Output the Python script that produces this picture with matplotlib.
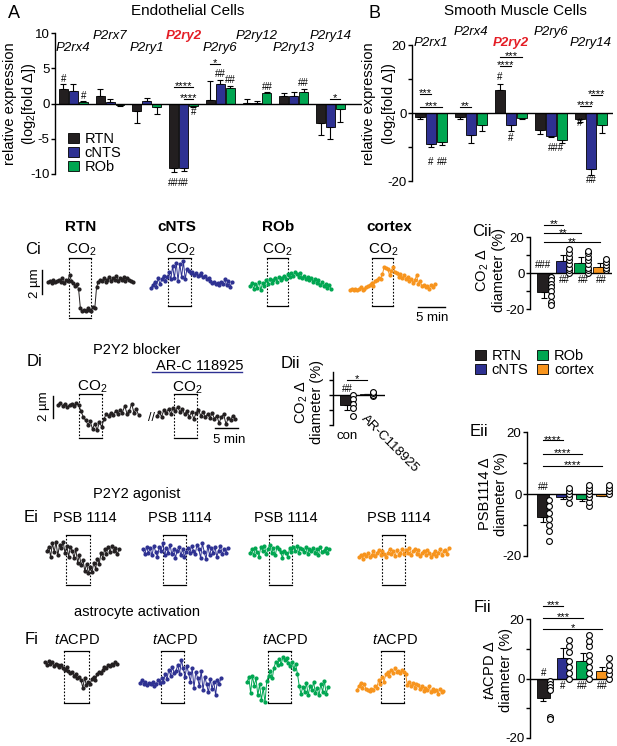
import matplotlib
matplotlib.use('Agg')
import matplotlib.pyplot as plt
import numpy as np

plt.rcParams['font.family'] = ['Liberation Sans', 'DejaVu Sans']
plt.rcParams['mathtext.fontset'] = 'custom'
plt.rcParams['mathtext.rm'] = 'Liberation Sans'
plt.rcParams['mathtext.it'] = 'Liberation Sans:italic'
plt.rcParams['mathtext.bf'] = 'Liberation Sans:bold'

# ------------------------------------------------------------------ data
regions = ['RTN', 'cNTS', 'ROb', 'cortex']
C_RTN, C_CNTS, C_ROB, C_CTX = '#231f20', '#2e3192', '#00a651', '#f7941d'
colors = [C_RTN, C_CNTS, C_ROB, C_CTX]

genes_A = ['P2rx4', 'P2rx7', 'P2ry1', 'P2ry2', 'P2ry6', 'P2ry12', 'P2ry13', 'P2ry14']
rtn_A = [2.1, 1.0, -1.1, -9.2, 0.5, 0.1, 1.0, -2.7]
rtn_A_err = [0.7, 1.1, 1.6, 0.5, 2.7, 0.5, 0.5, 1.7]
cnts_A = [1.8, 0.15, 0.35, -9.1, 2.8, 0.1, 1.0, -3.3]
cnts_A_err = [1.0, 0.5, 0.45, 0.5, 0.6, 0.3, 0.6, 1.8]
rob_A = [0.2, -0.2, -0.5, -0.4, 2.2, 1.5, 1.6, -0.8]
rob_A_err = [0.1, 0.1, 1.0, 0.1, 0.3, 0.1, 0.4, 1.8]

genes_B = ['P2rx1', 'P2rx4', 'P2ry2', 'P2ry6', 'P2ry14']
rtn_B = [-1.1, -1.1, 6.9, -5.0, -1.9]
rtn_B_err = [0.8, 0.8, 1.6, 1.3, 0.7]
cnts_B = [-9.2, -6.6, -3.6, -6.9, -16.5]
cnts_B_err = [0.9, 2.2, 1.6, 0.2, 1.8]
rob_B = [-8.5, -3.4, -1.4, -8.0, -3.6]
rob_B_err = [0.9, 2.0, 0.3, 0.8, 2.2]

# diameter traces (um), sampled every 1/3 min (Ci, Ei, Fi) or 1/2 min (Di)
ci_rtn = [0.0, 0.1, -0.1, 0.2, 0.0, 0.1, 0.2, 0.0, 0.3, -0.1, 0.2, 0.1, 0.6, 0.1, -0.1, -0.3, -0.2, -0.6,
          -2.2, -2.4, -2.3, -2.4, -2.2, -2.3, -2.4, -2.1, -2.2, -0.4, 0.0, 0.2, 0.1, 0.3, 0.0, 0.2, 0.4, 0.1,
          0.3, 0.2, 0.5, 0.1, 0.3, 0.2, 0.4, 0.1, 0.3, 0.2, 0.1, 0.0]
ci_cnts = [-0.4, -0.2, 0.1, -0.3, 0.4, -0.1, 0.3, 0.6, 0.2, 0.5, 0.9, 0.3, 1.4, 0.4, 1.7, 0.2, 1.6, 0.5, 1.8,
           0.3, 1.2, 1.0, 0.8, 0.9, 0.7, 0.8, 0.6, 0.7, 0.8, 0.5, 0.6, 0.3, 0.4, 0.2, 0.0, 0.1, -0.1, 0.0, -0.2,
           0.1, -0.1, 0.3, -0.2, 0.2, -0.3, 0.1]
ci_rob = [-0.2, 0.1, -0.4, 0.0, -0.3, 0.2, -0.5, 0.1, -0.2, 0.3, 0.0, 0.4, 0.1, 0.3, 0.5, 0.2, 0.6, 0.3, 0.5,
          0.7, 0.4, 0.8, 0.6, 0.9, 0.7, 1.0, 0.8, 0.6, 0.9, 0.5, 0.7, 0.4, 0.6, 0.3, 0.5, 0.2, 0.4, 0.1, 0.3,
          -0.1, 0.2, -0.2, 0.0, -0.3, -0.1, -0.4]
ci_ctx = [-0.4, -0.3, -0.4, -0.3, -0.4, -0.3, -0.2, -0.4, -0.3, -0.2, -0.1, 0.0, 0.2, -0.1, 0.3, 0.4, 0.6,
          0.5, 0.9, 1.5, 1.4, 1.3, 0.8, 1.2, 1.5, 1.1, 1.0, 0.7, 0.9, 0.6, 0.8, 0.5, 0.7, 0.3, 0.5, 0.2, 0.4,
          0.8, 0.1, 0.3, -0.1, 0.0, -0.2, -0.1, -0.3, 0.0, -0.2, 0.1]

di_con = [0.2, 0.4, 0.1, 0.3, 0.0, 0.2, 0.3, 0.1, 0.4, 0.2, -0.4, -0.9, -1.2, -1.6, -1.3, -2.0, -1.5, -2.1,
          -1.4, -1.8, -1.1, -0.6, -0.8, -0.5, -0.7, -0.4, -0.6, -0.3, -0.5, 0.1, -0.6, -0.4, 0.3, -0.5, -0.2, -0.7]
di_arc = [-0.5, -0.2, -0.6, 0.0, -0.3, 0.1, -0.4, 0.2, -0.1, 0.3, -0.2, 0.1, -0.4, -0.1, -0.6, -0.2, -0.8,
          -0.3, 0.0, -0.5, -0.2, -0.6, -0.4, -0.7, -0.3, -0.8, -0.5, -1.2, -0.6, -0.4, -1.3, -0.7, -0.9, -0.5, -0.8]

ei_rtn = [0.2, 0.5, -0.3, 0.8, 0.1, 0.9, -0.2, 0.7, 0.4, 0.9, 0.0, 0.6, -0.3, 0.5, 0.2, -0.4, 0.3, -0.8, -0.2,
          -1.0, -0.6, -1.5, -0.9, -1.7, -1.2, -1.6, -0.8, -1.3, -0.5, -0.9, 0.0, -0.4, 0.3, -0.1, 0.5, 0.1, 0.6,
          0.2, 0.4, -0.1, 0.3]
ei_cnts = [0.3, -0.1, 0.5, 0.0, 0.4, -0.2, 0.6, 0.1, -0.3, 0.5, 0.2, 0.8, -0.2, 0.4, 0.0, 0.7, -0.1, 0.3,
           -0.4, 0.2, 0.5, -0.2, 0.3, -0.3, 0.1, 0.4, 0.0, 0.6, 0.2, -0.1, 0.7, 0.3, -0.4, 0.8, 0.1, -0.5, 0.6,
           -0.2, 0.4, 0.0, 0.5, -0.3, 0.2, 0.6, -0.1, 0.3, 0.0, 0.4]
ei_rob = [0.0, 0.3, -0.2, 0.4, 0.1, -0.3, 0.5, 0.2, 0.6, -0.1, 0.3, 0.7, 0.0, 0.4, -0.2, 0.5, 0.3, 0.1, -0.4,
          0.2, 0.0, -0.3, 0.4, 0.1, 0.5, 0.2, 0.6, 0.0, 0.4, 0.3, 0.1, 0.5, -0.1, 0.3, 0.2, 0.4, 0.0, 0.3, -0.2,
          0.5, 0.1, 0.2, 0.4, 0.0, 0.3]
ei_ctx = [-0.2, 0.0, -0.3, 0.1, -0.1, 0.2, -0.2, 0.0, 0.3, -0.1, 0.2, 0.4, 0.0, 0.3, 0.1, -0.2, 0.2, 0.5,
          0.1, 0.3, -0.1, 0.4, 0.0, 0.2, 0.5, 0.1, 0.4, 0.2, 0.6, 0.0, 0.3, 0.5, 0.1, 0.4, -0.1, 0.2, 0.3, 0.0,
          0.4, 0.2, -0.2, 0.1, 0.3, -0.1, 0.2, 0.5, 0.0, 0.3, 0.4, 0.1, 0.6]

fi_rtn = [0.3, 0.1, 0.4, 0.2, 0.3, 0.0, 0.2, 0.1, -0.1, 0.1, -0.2, -0.3, -0.1, -0.4, -0.6, -0.5, -0.8, -0.7,
          -1.0, -0.9, -1.2, -1.8, -1.0, -1.6, -1.3, -1.5, -1.1, -0.9, -1.2, -0.7, -0.5, -0.6, -0.3, -0.1, -0.2,
          0.1, 0.0, 0.2, 0.1, 0.3, 0.2]
fi_cnts = [0.1, 0.3, 0.0, 0.2, -0.1, 0.1, 0.0, 0.2, -0.2, 0.0, 0.3, 0.1, 0.5, 0.2, 0.8, 0.4, 1.2, 0.7, 1.4,
           0.9, 1.1, 1.6, 0.8, 2.0, 1.3, 0.6, 1.5, 0.9, 0.2, 1.3, -0.3, 1.0, 0.5, -0.2, 1.1, -0.5, 0.6, 0.0,
           -0.7, 0.4, -0.4, 0.2, -0.9, 0.3, 0.0, 0.5]
fi_rob = [0.5, 0.9, -0.4, 1.0, 0.2, 0.8, -0.6, 0.3, -1.0, 0.0, -1.2, 0.6, 1.0, 1.4, 0.8, 1.7, 2.2, 1.9, 2.4,
          2.0, 2.6, 2.3, 2.5, 2.1, 1.8, 2.2, 1.6, 2.0, 1.2, 0.2, -0.5, 0.1, -0.3, 0.4, -0.6, 0.2, -0.2, 0.5,
          -0.4, 0.0, -0.6, 0.3, -0.3, 0.6, -0.5, 0.1]
fi_ctx = [0.0, 0.3, 0.6, 0.2, 0.5, 0.1, 0.0, -0.1, 0.1, 0.0, 0.3, 0.2, 0.8, 0.5, 1.1, 0.7, 1.3, 1.5, 1.2,
          1.7, 1.4, 1.8, 1.5, 1.6, 1.4, 1.7, 1.5, 1.3, 0.4, 0.7, 0.3, 0.6, 0.2, 0.5, 0.4, 0.1, 0.3, -0.1, 0.2,
          0.0, 0.3, -0.2, 0.1, -0.1, 0.0, -0.3, 0.1, -0.2, -0.1]

# summary diameter changes (%)
cii_mean = [-10.5, 6.5, 5.6, 3.4]
cii_err = [3.5, 3.5, 3.1, 1.9]
cii_pts = [[-2, -4, -6, -8, -10, -13, -16, -17.5],
           [0, 1.5, 3, 5, 7, 9, 11, 13.5],
           [0, 1.5, 3, 5, 7, 9, 11, 12.5],
           [1.5, 3, 4.5, 6, 8]]
dii_mean = [-7.0, 0.3]
dii_err = [3.0, 0.3]
dii_pts = [[0, -3, -6, -9, -14], [-1, 0, 1, 2]]
dii_labels = ['con', 'AR-C118925']
eii_mean = [-7.5, -1.0, -1.5, -0.5]
eii_err = [1.5, 0.5, 0.6, 0.3]
eii_pts = [[-2, -4, -6, -8, -10, -12, -15],
           [-3, -1, 0, 1, 2],
           [-4, -2.5, -1, 0, 1, 2, 3],
           [0, 1, 2, 3]]
fii_mean = [-6.5, 7.0, 6.0, 2.5]
fii_err = [1.0, 3.2, 2.5, 1.2]
fii_pts = [[-1, -2, -3, -4, -13, -13.6],
           [0, 2, 4, 6, 9, 11, 13],
           [0, 2, 4, 6, 8, 11, 12.5, 14.5],
           [0, 1.5, 3, 4.5, 7]]

# ------------------------------------------------------------------ figure
W, H = 617, 746
fig = plt.figure(figsize=(W / 100, H / 100), dpi=100)


def pax(x0, y0, x1, y1):
    return fig.add_axes([x0 / W, 1 - y1 / H, (x1 - x0) / W, (y1 - y0) / H])


ov = pax(0, 0, W, H)
ov.set_xlim(0, W)
ov.set_ylim(H, 0)
ov.axis('off')


def style_bar_axes(ax, ylim, ticks, labels, lsize=9.5):
    ax.set_ylim(*ylim)
    for s in ['top', 'right', 'bottom']:
        ax.spines[s].set_visible(False)
    ax.spines['left'].set_linewidth(1.0)
    ax.set_xticks([])
    ax.set_yticks(ticks)
    ax.set_yticklabels(labels)
    ax.tick_params(axis='y', length=3, width=1, pad=1, labelsize=lsize)
    ax.axhline(0, color='black', lw=1.0, zorder=4)
    ax.patch.set_alpha(0)


def one_sided_err(ax, x, v, e, lw=0.8, cap=2):
    v = np.asarray(v, float)
    e = np.asarray(e, float)
    lower = np.where(v < 0, e, 0)
    upper = np.where(v >= 0, e, 0)
    ax.errorbar(x, v, yerr=[lower, upper], fmt='none', ecolor='black', elinewidth=lw,
                capsize=cap, capthick=lw, zorder=1)


def sig(ax, x1, x2, y, txt, fs=8):
    ax.plot([x1, x2], [y, y], color='black', lw=0.8, clip_on=False, zorder=5)
    ax.annotate(txt, xy=((x1 + x2) / 2, y), xytext=(0, -1.6), textcoords='offset points',
                ha='center', va='baseline', fontsize=fs, annotation_clip=False)


def hsh(ax, x, y, txt, fs=7):
    ax.text(x, y, txt, ha='center', va='center', fontsize=fs, clip_on=False, zorder=5)


def two_line_label(x1, x2, y, l1, l2, fs=10.5):
    ov.text(x1, y, l1, rotation=90, fontsize=fs, ha='center', va='center')
    ov.text(x2, y, l2, rotation=90, fontsize=fs, ha='center', va='center')


# ------------------------------------------------------------------ panel A
axA = pax(55, 33, 362, 174)
axA.set_xlim(-0.5, 7.86)
style_bar_axes(axA, (-10, 10), [-10, -5, 0, 5, 10], ['-10', '-5', '0', '5', '10'])
offA, wA = 0.27, 0.245
xA = np.arange(len(genes_A))
handlesA = []
for j, (v, e) in enumerate([(rtn_A, rtn_A_err), (cnts_A, cnts_A_err), (rob_A, rob_A_err)]):
    xx = xA + (j - 1) * offA
    b = axA.bar(xx, v, width=wA, color=colors[j], edgecolor='black', linewidth=0.6, zorder=2,
                label=regions[j])
    handlesA.append(b)
    one_sided_err(axA, xx, v, e)
for i, g in enumerate(genes_A):
    yy = 9.6 if i % 2 == 1 else 7.9
    if g == 'P2ry2':
        axA.text(i, yy, g, ha='center', va='center', fontsize=9.5, style='italic', weight='bold',
                 color='#e41e26', clip_on=False)
    else:
        axA.text(i, yy, g, ha='center', va='center', fontsize=9.5, style='italic', clip_on=False)
# significance A
hsh(axA, 0 - offA, 3.5, '#')
hsh(axA, 0 + offA, 1.1, '#')
sig(axA, 3 - offA, 3 + offA, 2.3, '****')
sig(axA, 3, 3 + offA, 0.6, '****')
hsh(axA, 3 + offA, -1.2, '#')
hsh(axA, 3 - offA, -11.3, '##')
hsh(axA, 3, -11.3, '##')
sig(axA, 4 - offA, 4, 5.6, '*')
hsh(axA, 4, 4.2, '##')
hsh(axA, 4 + offA, 3.3, '##')
hsh(axA, 5 + offA, 2.4, '##')
hsh(axA, 6 + offA, 2.9, '##')
sig(axA, 7, 7 + offA, 0.7, '*')
axA.legend(handles=handlesA, loc='upper left', bbox_to_anchor=(68 / W, 1 - 132 / H),
           bbox_transform=fig.transFigure, frameon=False, fontsize=10.5, handlelength=0.75,
           handleheight=0.75, handletextpad=0.4, labelspacing=0.0, borderpad=0, borderaxespad=0)

ov.text(8, 14, 'A', fontsize=13, ha='left', va='center')
ov.text(188, 11, 'Endothelial Cells', fontsize=11, ha='center', va='center')
two_line_label(10, 29, 104, 'relative expression', '(log$_2$[fold Δ])')

# ------------------------------------------------------------------ panel B
axB = pax(412, 45, 613, 181)
axB.set_xlim(-0.475, 4.55)
style_bar_axes(axB, (-20, 20), [-20, -10, 0, 10, 20], ['-20', '', '0', '', '20'])
offB, wB = 0.275, 0.24
xB = np.arange(len(genes_B))
for j, (v, e) in enumerate([(rtn_B, rtn_B_err), (cnts_B, cnts_B_err), (rob_B, rob_B_err)]):
    xx = xB + (j - 1) * offB
    axB.bar(xx, v, width=wB, color=colors[j], edgecolor='black', linewidth=0.6, zorder=2)
    one_sided_err(axB, xx, v, e)
for i, g in enumerate(genes_B):
    yy = 23.8 if i % 2 == 1 else 20.6
    if g == 'P2ry2':
        axB.text(i, yy, g, ha='center', va='center', fontsize=9.5, style='italic', weight='bold',
                 color='#e41e26', clip_on=False)
    else:
        axB.text(i, yy, g, ha='center', va='center', fontsize=9.5, style='italic', clip_on=False)
sig(axB, -offB, 0, 5.6, '***')
sig(axB, -offB, offB, 1.8, '***')
hsh(axB, 0, -14.4, '#')
hsh(axB, offB, -14.4, '##')
sig(axB, 1 - offB, 1, 1.8, '**')
hsh(axB, 2 - offB, 10.6, '#')
sig(axB, 2 - offB, 2 + offB, 16.5, '***')
sig(axB, 2 - offB, 2, 13.8, '****')
hsh(axB, 2, -7.4, '#')
hsh(axB, 3 + 0.12, -10.3, '###')
sig(axB, 4 - offB, 4, 2.1, '****')
sig(axB, 4, 4 + offB, 5.2, '****')
hsh(axB, 4 - offB, -2.9, '#')
hsh(axB, 4, -19.8, '##')

ov.text(368, 14, 'B', fontsize=13, ha='left', va='center')
ov.text(515, 11, 'Smooth Muscle Cells', fontsize=11, ha='center', va='center')
two_line_label(369, 389, 104, 'relative expression', '(log$_2$[fold Δ])')


# ------------------------------------------------------------------ traces
def trace(x0, base, vals, color, win, box_top, box_bot, dt=1 / 3, pxmin=5.4, pxum=12.0,
          ms=2.0, lw=0.7):
    n = len(vals)
    t = np.arange(n) * dt
    tmax = (n - 1) * dt
    ymax, ymin = 4.0, -4.0
    ax = pax(x0, base - ymax * pxum, x0 + tmax * pxmin, base - ymin * pxum)
    ax.set_xlim(0, tmax)
    ax.set_ylim(ymin, ymax)
    ax.axis('off')
    ax.plot(t, vals, '-o', color=color, lw=lw, ms=ms, mec=color, clip_on=False, zorder=3)
    yt = (base - box_top) / pxum
    yb = (base - box_bot) / pxum
    ax.plot([win[0], win[1]], [yt, yt], color='black', lw=0.9, clip_on=False)
    ax.plot([win[0], win[1]], [yb, yb], color='black', lw=0.9, clip_on=False)
    for xx in win:
        ax.plot([xx, xx], [yt, yb], color='black', lw=0.8, ls=(0, (1.5, 1.5)), clip_on=False)
    return ax


# Ci
ov.text(33, 250, 'Ci', fontsize=12, ha='center', va='center')
for xc, lab in zip([81, 177, 278, 389], regions):
    ov.text(xc, 227, lab, fontsize=11, weight='bold', ha='center', va='center')
for xc in [81, 180, 277, 383]:
    ov.text(xc, 250, 'CO$_2$', fontsize=11, ha='center', va='center')
a_ci_rtn = trace(48, 282, ci_rtn, C_RTN, (3.9, 8.0), 258, 318)
trace(151, 283, ci_cnts, C_CNTS, (3.1, 7.4), 258, 306)
trace(250, 284, ci_rob, C_ROB, (3.1, 7.0), 258, 306)
a_ci_ctx = trace(350, 285, ci_ctx, C_CTX, (4.1, 8.0), 258, 306)
a_ci_rtn.plot([-1.1, -1.1], [-1.0, 1.0], color='black', lw=1.0, clip_on=False)
ov.text(35, 283, '2 µm', rotation=90, fontsize=9.5, ha='center', va='center')
a_ci_ctx.plot([12.6, 17.6], [-1.8, -1.8], color='black', lw=1.0, clip_on=False)
ov.text(432, 318, '5 min', fontsize=9.5, ha='center', va='center')

# Di
ov.text(35, 362, 'Di', fontsize=12, ha='center', va='center')
ov.text(137, 350, 'P2Y2 blocker', fontsize=10.5, ha='center', va='center')
ov.text(200, 366, 'AR-C 118925', fontsize=10.5, ha='center', va='center')
ov.plot([152, 242], [372, 372], color=C_CNTS, lw=1.0)
ov.text(92, 387, 'CO$_2$', fontsize=11, ha='center', va='center')
ov.text(187, 388, 'CO$_2$', fontsize=11, ha='center', va='center')
a_di1 = trace(58, 407, di_con, C_RTN, (4.6, 9.6), 394, 438, dt=0.5, pxmin=4.6, pxum=11.0)
a_di2 = trace(157, 410, di_arc, C_RTN, (3.7, 8.7), 394, 438, dt=0.5, pxmin=4.6, pxum=11.0)
ov.text(151, 418, '//', fontsize=9, ha='center', va='center')
a_di1.plot([-1.0, -1.0], [1.0, -1.0], color='black', lw=1.0, clip_on=False)
ov.text(44, 406, '2 µm', rotation=90, fontsize=9.5, ha='center', va='center')
a_di2.plot([12.6, 17.6], [-1.6, -1.6], color='black', lw=1.0, clip_on=False)
ov.text(229, 440, '5 min', fontsize=9.5, ha='center', va='center')

# Ei
ov.text(137, 494, 'P2Y2 agonist', fontsize=10.5, ha='center', va='center')
ov.text(31, 518, 'Ei', fontsize=12, ha='center', va='center')
for xc in [85, 180, 286, 399]:
    ov.text(xc, 518, 'PSB 1114', fontsize=10.5, ha='center', va='center')
trace(47, 553, ei_rtn, C_RTN, (3.5, 8.0), 535, 585)
trace(143, 553, ei_cnts, C_CNTS, (3.7, 8.0), 535, 585)
trace(250, 553, ei_rob, C_ROB, (3.5, 7.8), 535, 585)
trace(359, 555, ei_ctx, C_CTX, (4.3, 8.5), 535, 585)

# Fi
ov.text(137, 612, 'astrocyte activation', fontsize=10.5, ha='center', va='center')
ov.text(32, 640, 'Fi', fontsize=12, ha='center', va='center')
for xc in [77, 175, 285, 395]:
    ov.text(xc, 640, '$\\mathit{t}$ACPD', fontsize=10.5, ha='center', va='center')
trace(45, 666, fi_rtn, C_RTN, (3.5, 8.1), 651, 703)
trace(140, 684, fi_cnts, C_CNTS, (3.9, 8.1), 651, 703)
trace(247, 688, fi_rob, C_ROB, (3.9, 8.1), 651, 703)
trace(357, 690, fi_ctx, C_CTX, (4.4, 8.7), 651, 703)


# ------------------------------------------------------------------ summary bar panels
def diam_panel(box, xlim, means, errs, pts, barw, cols, off=0.33):
    ax = pax(*box)
    ax.set_xlim(*xlim)
    style_bar_axes(ax, (-20, 20), [-20, -10, 0, 10, 20], ['-20', '', '0', '', '20'], lsize=9.5)
    x = np.arange(len(means))
    ax.bar(x, means, width=barw, color=cols, edgecolor='black', linewidth=0.6, zorder=2)
    one_sided_err(ax, x, means, errs)
    for i, p in enumerate(pts):
        ax.plot(np.full(len(p), i + off), p, 'o', ms=4.2, mfc='white', mec='black', mew=0.8,
                zorder=6, clip_on=False)
    return ax


# Cii
axC = diam_panel((530, 237, 612, 309), (-0.78, 3.65), cii_mean, cii_err, cii_pts, 0.8, colors)
sig(axC, 0, 1, 26.5, '**')
sig(axC, 0, 2, 22.0, '**')
sig(axC, 0, 3, 17.0, '**')
hsh(axC, -0.05, 4.5, '###')
for i, t in [(1, '##'), (2, '##'), (3, '##')]:
    hsh(axC, i + 0.1, -4.0, t)
ov.text(482, 232, 'Cii', fontsize=12, ha='center', va='center')
two_line_label(483, 499, 270, 'CO$_2$ Δ', 'diameter (%)')

# legend
lh = [plt.Rectangle((0, 0), 1, 1, fc=c, ec='black', lw=0.6) for c in colors]
ov.legend(lh, regions, loc='upper left', bbox_to_anchor=(475 / W, 1 - 349 / H),
          bbox_transform=fig.transFigure, ncol=2, frameon=False, fontsize=10.5, handlelength=0.75,
          handleheight=0.75, handletextpad=0.4, labelspacing=0.0, columnspacing=0.6, borderpad=0,
          borderaxespad=0)

# Dii
axD = pax(333, 372, 385, 425)
axD.set_xlim(-0.7, 1.9)
style_bar_axes(axD, (-20, 15), [-20, -10, 0, 10], ['', '', '', ''])
xD = np.arange(2)
axD.bar(xD, dii_mean, width=0.75, color=[C_RTN, 'white'], edgecolor='black', linewidth=0.6, zorder=2)
one_sided_err(axD, xD, dii_mean, dii_err)
for i, p in enumerate(dii_pts):
    axD.plot(np.full(len(p), i + 0.3), p, 'o', ms=4.2, mfc='white', mec='black', mew=0.8, zorder=6,
             clip_on=False)
sig(axD, 0, 1, 10, '*')
hsh(axD, 0, 3.5, '##')
axD.text(0, -27, dii_labels[0], fontsize=9.5, ha='center', va='center', clip_on=False)
axD.text(1.0, -12, dii_labels[1], fontsize=9.5, ha='left', va='top', rotation=-45,
         rotation_mode='anchor', clip_on=False)
ov.text(290, 363, 'Dii', fontsize=12, ha='center', va='center')
two_line_label(302, 317, 402, 'CO$_2$ Δ', 'diameter (%)')

# Eii
axE = diam_panel((527, 432, 612, 556), (-0.81, 3.5), eii_mean, eii_err, eii_pts, 0.65, colors)
sig(axE, 0, 1, 17.3, '****')
sig(axE, 0, 2, 12.9, '****')
sig(axE, 0, 3, 9.0, '****')
hsh(axE, 0, 2.2, '##')
ov.text(479, 432, 'Eii', fontsize=12, ha='center', va='center')
two_line_label(485, 501, 494, 'PSB1114 Δ', 'diameter (%)')

# Fii
axF = diam_panel((530, 619, 612, 738), (-0.68, 3.5), fii_mean, fii_err, fii_pts, 0.65, colors)
sig(axF, 0, 1, 24.5, '***')
sig(axF, 0, 2, 20.5, '***')
sig(axF, 0, 3, 16.8, '*')
hsh(axF, 0, 2.0, '#')
hsh(axF, 1, -2.5, '#')
hsh(axF, 2, -2.5, '##')
hsh(axF, 3, -2.5, '##')
ov.text(482, 607, 'Fii', fontsize=12, ha='center', va='center')
two_line_label(490, 506, 670, '$\\mathit{t}$ACPD Δ', 'diameter (%)')

fig.savefig('out.png', dpi=100)
